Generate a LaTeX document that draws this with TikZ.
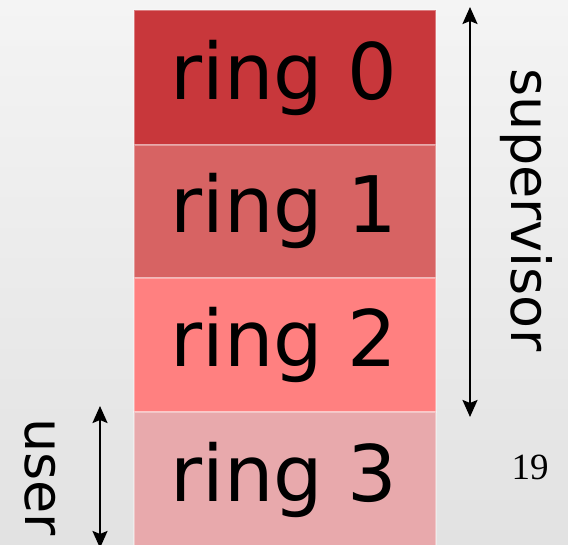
\documentclass[tikz,border=0pt]{standalone}
\usepackage{fontspec}
\setmainfont{DejaVu Sans}
\newfontfamily\serifnum{Liberation Serif}
\usetikzlibrary{arrows.meta}
\definecolor{bgtop}{HTML}{F4F4F4}
\definecolor{bgbot}{HTML}{E2E2E2}
\definecolor{rzero}{HTML}{C8373B}
\definecolor{rone}{HTML}{D76363}
\definecolor{rtwo}{HTML}{FF8080}
\definecolor{rthree}{HTML}{E8A9AC}
\tikzset{
  band/.style={draw=white, draw opacity=0.35, line width=2pt, inner sep=0pt, outer sep=0pt},
  ringlabel/.style={font=\fontsize{78}{80}\selectfont, text=black, anchor=base, inner sep=0pt},
  sidelabel/.style={font=\fontsize{54}{56}\selectfont, text=black, rotate=-90, inner sep=0pt},
  rangearrow/.style={line width=2.2pt, {Stealth[length=17pt,width=15pt,inset=3pt]}-{Stealth[length=17pt,width=15pt,inset=3pt]}},
}
\begin{document}
\begin{tikzpicture}[x=1pt,y=-1pt]
\useasboundingbox (0,0) rectangle (568,545);
\shade[top color=bgtop, bottom color=bgbot] (0,0) rectangle (568,545);
% bands
\path[fill=rzero, band] (134,10) rectangle (436,145);
\path[fill=rone, band] (134,145) rectangle (436,278);
\path[fill=rtwo, band] (134,278) rectangle (436,412);
\path[fill=rthree, band] (134,412) rectangle (436,560);
\node[ringlabel] (r0) at (284,100) {ring 0};
\node[ringlabel] (r1) at (284,233) {ring 1};
\node[ringlabel] (r2) at (284,367) {ring 2};
\node[ringlabel] (r3) at (284,501) {ring 3};
% supervisor
\coordinate (supTop) at (470,7);
\coordinate (supBot) at (470,417);
\draw[rangearrow] (supTop) -- (supBot);
\node[sidelabel, anchor=base] (sup) at (511,210) {supervisor};
% user
\coordinate (userTop) at (100,406);
\coordinate (userBot) at (100,548);
\draw[rangearrow] (userTop) -- (userBot);
\node[sidelabel, anchor=base] (user) at (25,477) {user};
% page number
\node[font=\serifnum\fontsize{37}{40}\selectfont, anchor=base, inner sep=0pt] (pg) at (530,479) {19};
\end{tikzpicture}
\end{document}
